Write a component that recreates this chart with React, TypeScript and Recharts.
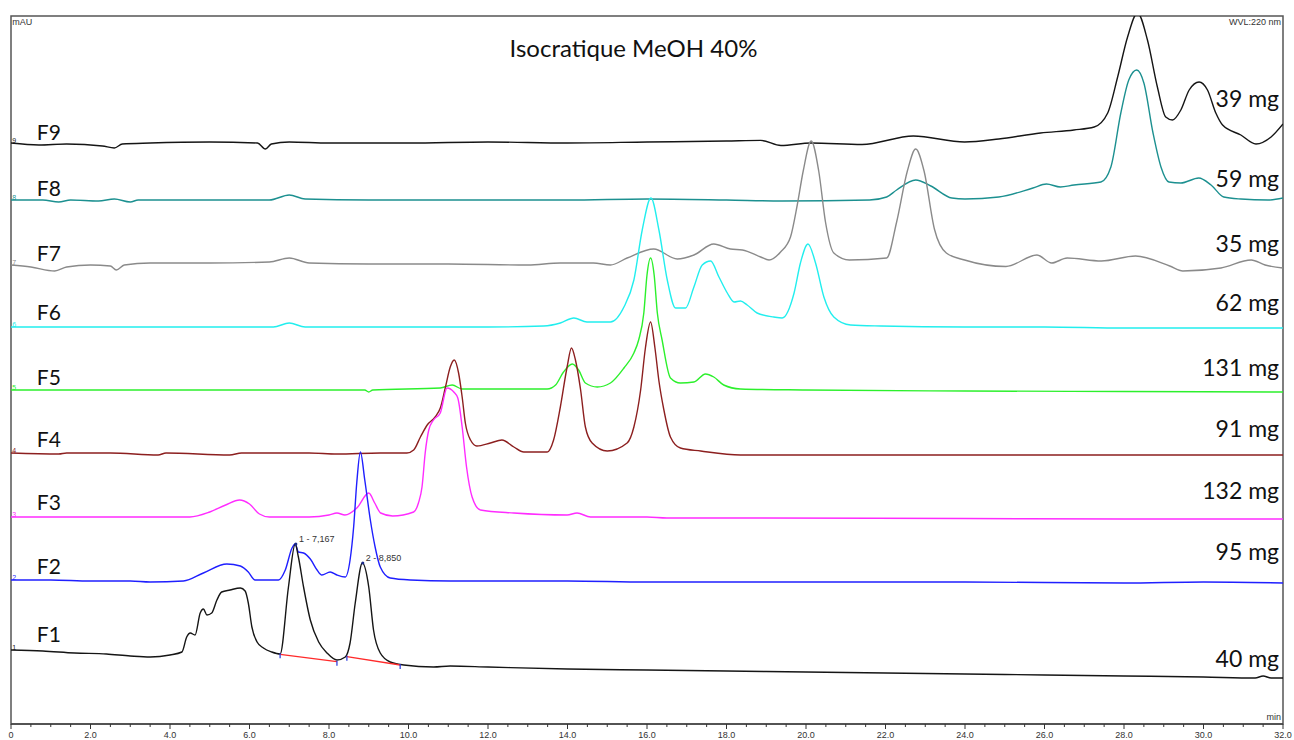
import { LineChart, Line, XAxis, YAxis, ReferenceArea, ReferenceDot } from 'recharts';

type Point = [number, number];

// [retention time (min), signal above the trace's own baseline (mAU, normalized)]
const F1_TRACE: Point[] = [
  [0, 0], [0.8, -1], [1.6, -3], [2.4, -4], [3.0, -6], [3.5, -7], [4.0, -5], [4.3, -2],
  [4.42, 13], [4.51, 17], [4.63, 15], [4.76, 37], [4.84, 41], [4.93, 35], [5.05, 37],
  [5.18, 50], [5.3, 58], [5.51, 60], [5.77, 62], [5.89, 59], [5.97, 47], [6.06, 23],
  [6.19, 8], [6.35, 2], [6.56, -2], [6.77, -4], [6.98, 63], [7.15, 106], [7.23, 93],
  [7.36, 63], [7.53, 30], [7.74, 8], [7.95, -3], [8.2, -10], [8.41, -7], [8.53, 7],
  [8.66, 47], [8.84, 87], [9.0, 63], [9.12, 20], [9.29, -3], [9.54, -12], [9.88, -15],
  [10.63, -17], [11.05, -16], [12, -17], [14, -19], [16, -20], [18, -21], [20, -22],
  [22, -23], [24, -24], [26, -25], [28, -26], [30, -27], [31.3, -28], [31.5, -26],
  [31.7, -28], [32, -28],
];

const F2_TRACE: Point[] = [
  [0, 0], [1, 0], [2, -1], [3, -1], [3.5, -2], [4.34, -1], [4.84, 7], [5.43, 16],
  [5.77, 14], [5.97, 8], [6.14, 0], [6.73, 0], [6.9, 10], [7.07, 32], [7.15, 36],
  [7.23, 28], [7.36, 27], [7.53, 21], [7.7, 10], [7.82, 5], [8.03, 8], [8.2, 5],
  [8.41, 3], [8.53, 20], [8.62, 53], [8.7, 98], [8.79, 128], [8.9, 100], [9.04, 60],
  [9.16, 33], [9.29, 13], [9.54, 2], [10.05, 0], [11.05, -1], [14, -1], [16, -2],
  [20, -2], [24, -2], [28, -3], [30, -2], [32, -3],
];

const F3_TRACE: Point[] = [
  [0, 0], [2, 0], [4.5, 0], [5.0, 5], [5.4, 12], [5.75, 17], [6.0, 13], [6.25, 3],
  [6.5, 0], [7.5, 0], [8.0, 2], [8.2, 4], [8.4, 2], [8.7, 9], [9.0, 24], [9.15, 14],
  [9.3, 4], [9.6, 1], [10.13, 5], [10.25, 14], [10.34, 30], [10.42, 64], [10.51, 87],
  [10.63, 97], [10.8, 104], [10.97, 129], [11.14, 125], [11.24, 119], [11.35, 90],
  [11.46, 50], [11.6, 20], [11.81, 7], [12.65, 4], [13.99, 2], [14.24, 4], [14.58, 0],
  [16.0, 0], [16.5, -1], [18.35, -1], [24, -1.5], [28, -2], [32, -2],
];

const F4_TRACE: Point[] = [
  [0, 0], [1.2, -1], [1.4, 0], [2.5, 0], [3.7, -2], [3.9, 0], [5.5, -2], [5.8, 0],
  [7.5, 0], [8.2, -1], [9.29, 0], [9.96, 0], [10.13, 3], [10.3, 16], [10.47, 28],
  [10.67, 36], [10.8, 45], [10.93, 66], [11.05, 86], [11.15, 93], [11.26, 80],
  [11.35, 56], [11.43, 30], [11.56, 13], [11.72, 7], [12.06, 10], [12.35, 13],
  [12.65, 6], [12.9, 1], [13.49, 1], [13.65, 13], [13.82, 46], [13.99, 86], [14.1, 105],
  [14.2, 93], [14.33, 63], [14.45, 26], [14.62, 10], [15.0, 2], [15.5, 10], [15.67, 26],
  [15.84, 63], [15.96, 105], [16.09, 131], [16.2, 105], [16.3, 72], [16.42, 44],
  [16.59, 16], [16.84, 5], [17.35, 2], [18.35, -2], [24, -2], [28, -2], [32, -2],
];

const F5_TRACE: Point[] = [
  [0, 0], [2, 0], [4, 0], [6, 0], [8.9, 0], [9.0, -2], [9.1, 0], [10.8, 2], [11.1, 5],
  [11.35, 1], [12.23, 1], [13.49, 1], [13.7, 5], [13.9, 18], [14.12, 26], [14.28, 20],
  [14.45, 7], [14.75, 3], [15.08, 7], [15.42, 22], [15.67, 37], [15.79, 50], [15.92, 77],
  [16.0, 115], [16.09, 132], [16.18, 115], [16.26, 77], [16.38, 50], [16.59, 12],
  [16.84, 7], [17.18, 8], [17.47, 16], [17.68, 13], [17.93, 5], [18.35, 1], [20, 0],
  [24, -1], [28, -1.5], [32, -2],
];

const F6_TRACE: Point[] = [
  [0, 0], [2, 0], [4, 0], [6.6, 0], [7.0, 4], [7.4, 0], [10, 0], [12, 0], [13.4, 1],
  [13.82, 4], [14.16, 9], [14.49, 5], [15.08, 5], [15.42, 20], [15.67, 47], [15.88, 97],
  [16.1, 129], [16.3, 97], [16.51, 47], [16.72, 19], [16.97, 19], [17.18, 40],
  [17.39, 62], [17.6, 66], [17.81, 50], [18.02, 34], [18.19, 25], [18.35, 26],
  [18.52, 22], [18.77, 14], [19.19, 10], [19.4, 9], [19.7, 34], [19.86, 64], [20.05, 83],
  [20.24, 64], [20.45, 30], [20.7, 10], [21.12, 2], [21.88, 1], [24, 0], [26, 0],
  [28, -1], [30, -1], [32, -1],
];

const F7_TRACE: Point[] = [
  [0, 0], [0.5, -2], [1.1, -6], [1.4, -2], [2.0, 0], [2.5, -1], [2.65, -5], [2.85, 0],
  [3.5, 2], [5, 2], [6.5, 3], [7.0, 7], [7.5, 2], [9, 1], [11, 1], [13, 0], [13.82, 2],
  [14.65, 2], [15.08, 0], [15.5, 7], [16.17, 16], [16.76, 6], [17.18, 10], [17.68, 21],
  [18.1, 16], [18.4, 15], [18.86, 8], [19.07, 5], [19.36, 13], [19.61, 28], [19.78, 60],
  [19.93, 94], [20.13, 124], [20.32, 94], [20.49, 43], [20.7, 12], [21.09, 5],
  [22.03, 7], [22.28, 43], [22.55, 94], [22.76, 116], [22.97, 94], [23.23, 36],
  [23.53, 12], [23.99, 5], [25.03, -1.5], [25.81, 10], [26.18, 2], [26.57, 7],
  [27.43, 4], [28.29, 9], [29.15, -1], [29.48, -6], [30.44, -3], [31.2, 5], [31.55, 0],
  [32, -3],
];

const F8_TRACE: Point[] = [
  [0, 0], [0.8, 0], [1.2, -2], [1.5, 0], [2.2, -1], [2.6, 1], [3.0, -2], [3.2, 0],
  [4, 0], [6.5, 0], [7.0, 5], [7.4, 1], [9, 0], [12, 0], [14, 0], [16, 1], [18, 0],
  [19.4, -1], [21.6, 0], [22.03, 3], [22.28, 10], [22.76, 20], [23.14, 14], [23.67, 2],
  [24.0, 1], [24.85, 3], [25.71, 12], [26.05, 16], [26.4, 13], [26.74, 15], [27.42, 18],
  [27.67, 33], [27.92, 87], [28.12, 120], [28.32, 130], [28.5, 117], [28.73, 67],
  [28.93, 33], [29.13, 18], [29.43, 17], [29.88, 22], [30.19, 15], [30.51, 3],
  [30.94, 1], [31.62, 0], [32, 2],
];

const F9_TRACE: Point[] = [
  [0, 0], [0.7, -2], [1.4, -1], [2.3, -3], [2.6, -5], [2.8, -1], [3.5, 0], [5, 1],
  [6.2, 0], [6.4, -6], [6.55, -1], [7, 1], [8, 0], [10, 0], [12, 1], [14, 0], [16, 1],
  [18, 2], [18.86, 2.6], [19.37, -2.5], [20.13, 0], [21.41, -1.5], [22.7, 7], [23.99, 1],
  [24.85, 4], [25.9, 10], [26.74, 13], [27.25, 16], [27.59, 30], [27.84, 66],
  [28.09, 106], [28.34, 130], [28.59, 103], [28.84, 56], [29.05, 26], [29.22, 23],
  [29.43, 33], [29.64, 53], [29.89, 61], [30.1, 53], [30.31, 30], [30.48, 18],
  [30.94, 8], [31.32, -1], [31.7, 6], [32, 19],
];

// baseline drawn under peaks 1 and 2 of F1 (relative to F1 baseline)
const INTEGRATION_A: Point[] = [[6.77, -4.3], [8.2, -11.7]];
const INTEGRATION_B: Point[] = [[8.45, -6.7], [9.79, -15]];

const PEAK_TIMES = [7.167, 8.85];
const PEAK_HEIGHTS = [106, 87];
const PEAK_LABELS = ['1 - 7,167', '2 - 8,850'];

const FRACTIONS = ['F1', 'F2', 'F3', 'F4', 'F5', 'F6', 'F7', 'F8', 'F9'];
const MASSES = ['40 mg', '95 mg', '132 mg', '91 mg', '131 mg', '62 mg', '35 mg', '59 mg', '39 mg'];
const TRACES = [F1_TRACE, F2_TRACE, F3_TRACE, F4_TRACE, F5_TRACE, F6_TRACE, F7_TRACE, F8_TRACE, F9_TRACE];
// vertical offset of each trace in the overlay (mAU)
const BASELINES = [74, 144, 207, 271, 334, 397, 459, 524, 581];

const MAJOR_TICKS = [0, 2, 4, 6, 8, 10, 12, 14, 16, 18, 20, 22, 24, 26, 28, 30, 32];
const ALL_TICKS = Array.from({ length: 65 }, (_, i) => i * 0.5);

// layout (not data)
const COLORS = ['#151515', '#1f1fff', '#ff2cff', '#8c1f1f', '#2cf02c', '#22eeee', '#8a8a8a', '#1c9090', '#151515'];
const FRACTION_LABEL_Y = [91, 159, 223, 286, 348, 413, 472, 537, 593];
const MASS_LABEL_Y = [66, 173, 234, 296, 357, 422, 481, 546, 626];
const Y_MAX = 708;
const W = 1294;
const H = 740;

function textAt(text: string, opts: { anchor?: 'start' | 'middle' | 'end'; size: number; fill?: string; font?: string; dx?: number; dy?: number }) {
  return (props: any) => {
    const vb = props.viewBox;
    if (!vb) return null;
    const x = vb.x + (vb.width || 0) / 2 + (opts.dx || 0);
    const y = vb.y + (vb.height || 0) / 2 + (opts.dy || 0);
    return (
      <text
        x={x}
        y={y}
        textAnchor={opts.anchor || 'start'}
        dominantBaseline="central"
        fontSize={opts.size}
        fontFamily={opts.font || 'Lato, sans-serif'}
        fill={opts.fill || '#111'}
      >
        {text}
      </text>
    );
  };
}

function TimeTick(props: any) {
  const { x, y, payload } = props;
  const v = payload.value;
  const major = Math.abs(v % 2) < 1e-6;
  return (
    <g>
      <line x1={x} x2={x} y1={y} y2={y + (major ? 5 : 3)} stroke="#333" strokeWidth={1} />
      {major && (
        <text x={x} y={y + 14} textAnchor="middle" fontSize={9} fontFamily="Arial, Liberation Sans, sans-serif" fill="#333">
          {v === 0 ? '0' : v.toFixed(1)}
        </text>
      )}
    </g>
  );
}

function IntegrationTick(props: any) {
  const { cx, cy, index } = props;
  if (cx == null || cy == null) return <g key={index} />;
  return <line key={index} x1={cx} x2={cx} y1={cy - 1} y2={cy + 4} stroke="#2233dd" strokeWidth={1.2} />;
}

const toRows = (pts: Point[], base: number) => pts.map(([t, h]) => ({ t, v: base + h }));

export default function App() {
  const order = [8, 7, 6, 5, 4, 3, 2, 1, 0];
  return (
    <div style={{ position: 'absolute', left: 0, top: 0, width: W, height: H, background: '#fff' }}>
      <LineChart width={W} height={H} margin={{ top: 16, right: 11, bottom: 0, left: 11 }}>
        <XAxis
          type="number"
          dataKey="t"
          domain={[0, 32]}
          ticks={ALL_TICKS}
          interval={0}
          allowDataOverflow
          height={16}
          tickSize={0}
          tickMargin={0}
          tickLine={false}
          axisLine={{ stroke: '#444', strokeWidth: 1.5 }}
          tick={<TimeTick />}
        />
        <YAxis type="number" hide domain={[0, Y_MAX]} allowDataOverflow />
        <ReferenceArea x1={0} x2={32} y1={0} y2={Y_MAX} fill="none" stroke="#555" strokeWidth={1.5} />
        {order.map((i) => (
          <Line
            key={FRACTIONS[i]}
            data={toRows(TRACES[i], BASELINES[i])}
            dataKey="v"
            type="monotone"
            stroke={COLORS[i]}
            strokeWidth={1.4}
            dot={false}
            activeDot={false}
            isAnimationActive={false}
          />
        ))}
        {[INTEGRATION_A, INTEGRATION_B].map((seg, k) => (
          <Line
            key={'int' + k}
            data={toRows(seg, BASELINES[0])}
            dataKey="v"
            type="linear"
            stroke="#ff2a2a"
            strokeWidth={1.3}
            dot={<IntegrationTick />}
            activeDot={false}
            isAnimationActive={false}
          />
        ))}
        {PEAK_TIMES.map((t, k) => (
          <ReferenceDot
            key={'pk' + k}
            x={t}
            y={BASELINES[0] + PEAK_HEIGHTS[k]}
            r={1.5}
            fill="#1a2a8a"
            stroke="none"
            label={textAt(PEAK_LABELS[k], { size: 9, fill: '#333', font: 'Arial, sans-serif', dx: 3, dy: -5 })}
          />
        ))}
        {FRACTIONS.map((f, i) => (
          <ReferenceDot
            key={'fl' + i}
            x={0.65}
            y={FRACTION_LABEL_Y[i]}
            r={0}
            fill="none"
            stroke="none"
            label={textAt(f, { size: 21 })}
          />
        ))}
        {FRACTIONS.map((f, i) => (
          <ReferenceDot
            key={'tn' + i}
            x={0.03}
            y={BASELINES[i] + 3}
            r={0}
            fill="none"
            stroke="none"
            label={textAt(String(i + 1), { size: 7, fill: COLORS[i], font: 'Arial, sans-serif' })}
          />
        ))}
        {MASSES.map((m, i) => (
          <ReferenceDot
            key={'ml' + i}
            x={31.9}
            y={MASS_LABEL_Y[i]}
            r={0}
            fill="none"
            stroke="none"
            label={textAt(m, { size: 23, anchor: 'end' })}
          />
        ))}
        <ReferenceDot x={15.66} y={677} r={0} fill="none" stroke="none" label={textAt('Isocratique MeOH 40%', { size: 24, anchor: 'middle' })} />
        <ReferenceDot x={0.03} y={702} r={0} fill="none" stroke="none" label={textAt('mAU', { size: 9, fill: '#333', font: 'Arial, sans-serif' })} />
        <ReferenceDot x={31.95} y={702} r={0} fill="none" stroke="none" label={textAt('WVL:220 nm', { size: 9, fill: '#333', font: 'Arial, sans-serif', anchor: 'end' })} />
        <ReferenceDot x={31.95} y={7} r={0} fill="none" stroke="none" label={textAt('min', { size: 9, fill: '#333', font: 'Arial, sans-serif', anchor: 'end' })} />
      </LineChart>
    </div>
  );
}
